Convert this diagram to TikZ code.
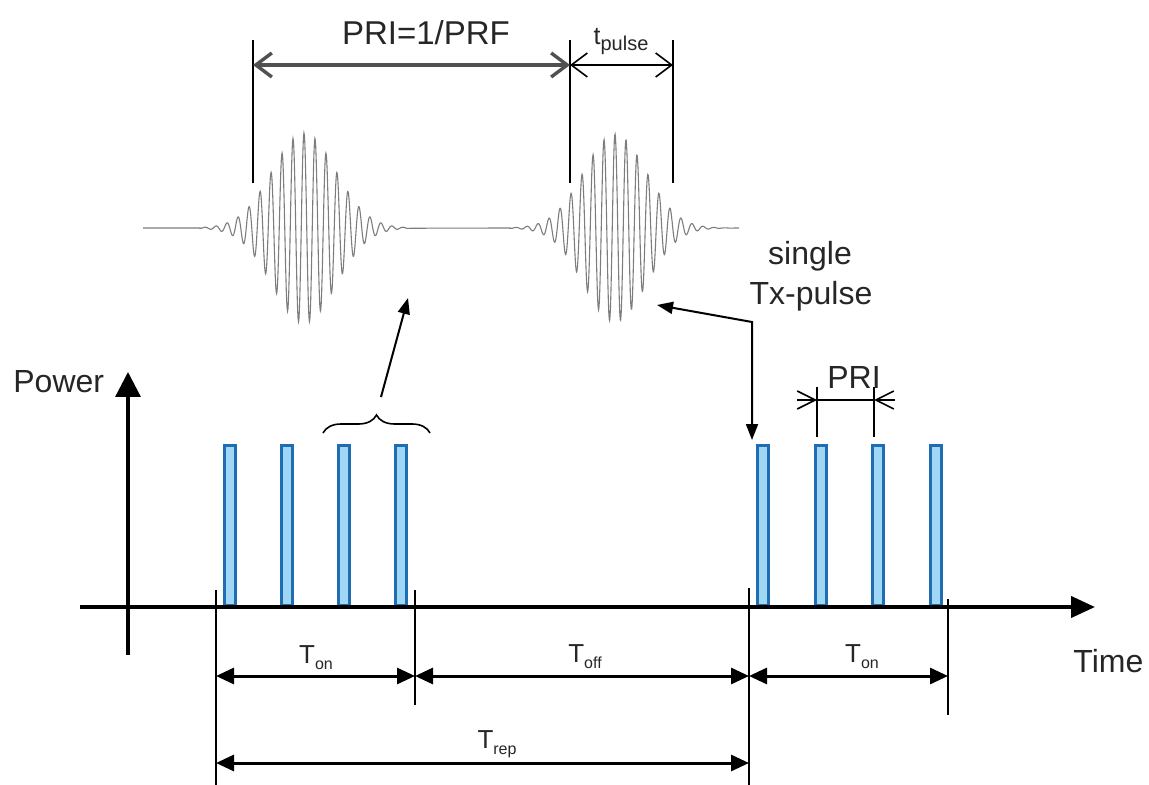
\documentclass[tikz,border=0pt]{standalone}
\usepackage{fontspec}
\setmainfont{Liberation Sans}
\usetikzlibrary{arrows.meta,decorations.pathreplacing}
\definecolor{pulseedge}{RGB}{31,110,180}
\definecolor{pulsefill}{RGB}{160,215,245}
\definecolor{wavegray}{RGB}{125,125,125}
\definecolor{dimgray}{RGB}{80,80,80}
\newcommand\TsubLbl[1]{T\raisebox{-3pt}{\fontsize{8}{10}\selectfont #1}}
\begin{document}
\begin{tikzpicture}[x=0.5pt,y=-0.5pt,
  pulsebox/.style={draw=pulseedge, fill=pulsefill, line width=1.6pt, minimum width=5.5pt, minimum height=80pt, inner sep=0pt, anchor=south},
  lbl/.style={font=\fontsize{16}{19}\selectfont, inner sep=0pt},
  tlbl/.style={font=\fontsize{13}{15}\selectfont, inner sep=0pt, anchor=base},
  dimarrow/.style={line width=1.5pt, {Triangle[length=9pt,width=8pt]}-{Triangle[length=9pt,width=8pt]}},
  guide/.style={line width=0.8pt},
  barb/.style={line width=0.8pt, -{Straight Barb[length=9pt,width=9pt]}},
  axisline/.style={line width=2pt},
  wave/.style={draw=wavegray, line width=0.55pt}
]
\useasboundingbox (0,0) rectangle (1149,785);

% ---------- waveform ----------
\draw[wave] (143,228) -- (200,228)
  -- plot[domain=200:410, samples=500] (\x, {228 - 95*exp(-((\x-304)/45)^2)*cos(32.727*(\x-304))})
  -- (510,228)
  -- plot[domain=510:730, samples=520] (\x, {228 - 94*exp(-((\x-615)/44)^2)*cos(32.727*(\x-615))})
  -- (739,228);

% ---------- top dimensions ----------
\coordinate (tg1a) at (253,40); \coordinate (tg1b) at (253,183);
\coordinate (tg2a) at (570,40); \coordinate (tg2b) at (570,183);
\coordinate (tg3a) at (673,40); \coordinate (tg3b) at (673,183);
\draw[guide] (tg1a) -- (tg1b);
\draw[guide] (tg2a) -- (tg2b);
\draw[guide] (tg3a) -- (tg3b);
\coordinate (pri1) at (253,65); \coordinate (pri2) at (570,65); \coordinate (tp2) at (673,65);
\draw[draw=dimgray, line width=1.7pt, {Straight Barb[length=8pt,width=12pt]}-{Straight Barb[length=8pt,width=12pt]}] (pri1) -- (pri2);
\draw[line width=0.8pt, {Straight Barb[length=8pt,width=12pt]}-{Straight Barb[length=8pt,width=12pt]}] (pri2) -- (tp2);
\node[lbl, font=\fontsize{16.5}{19}\selectfont, anchor=base, text=black!85] (prilbl) at (426,45) {PRI=1/PRF};
\node[inner sep=0pt, anchor=base, text=black!85] (tpulse) at (621,45) {\fontsize{12.5}{14}\selectfont t\raisebox{-3pt}{\fontsize{10}{12}\selectfont pulse}};

% ---------- pulses ----------
\foreach \i/\px in {1/230,2/287,3/344,4/401,5/763,6/821,7/878,8/936}
  \node[pulsebox] (p\i) at (\px,607) {};

% ---------- axes ----------
\coordinate (xa0) at (80,607); \coordinate (xa1) at (1095,607);
\draw[axisline, -{Triangle[length=12pt,width=10.5pt]}] (xa0) -- (xa1);
\coordinate (ya0) at (128,655); \coordinate (ya1) at (128,372);
\draw[line width=1.6pt, -{Triangle[length=12.5pt,width=12.5pt]}] (ya0) -- (ya1);
\node[lbl, anchor=base west, text=black!85] (power) at (13,393) {Power};
\node[lbl, anchor=base west, text=black!85] (time) at (1073,672) {Time};

% ---------- bottom guides ----------
\coordinate (g1a) at (216,590); \coordinate (g1b) at (216,785);
\coordinate (g2a) at (415,590); \coordinate (g2b) at (415,705);
\coordinate (g3a) at (749,588); \coordinate (g3b) at (749,785);
\coordinate (g4a) at (948,599); \coordinate (g4b) at (948,715);
\draw[guide] (g1a) -- (g1b);
\draw[guide] (g2a) -- (g2b);
\draw[guide] (g3a) -- (g3b);
\draw[guide] (g4a) -- (g4b);

\coordinate (d1) at (216,676); \coordinate (d2) at (415,676);
\coordinate (d3) at (749,676); \coordinate (d4) at (948,676);
\coordinate (r1) at (216,763); \coordinate (r2) at (749,763);
\draw[dimarrow] (d1) -- (d2);
\draw[dimarrow] (d2) -- (d3);
\draw[dimarrow] (d3) -- (d4);
\draw[dimarrow] (r1) -- (r2);
\node[tlbl, text=black!85] (ton1) at (316,663) {\TsubLbl{on}};
\node[tlbl, text=black!85] (toff) at (585,662) {\TsubLbl{off}};
\node[tlbl, text=black!85] (ton2) at (862,662) {\TsubLbl{on}};
\node[tlbl, text=black!85] (trep) at (497,748) {\TsubLbl{rep}};

% ---------- brace and arrow to first burst ----------
\coordinate (bra) at (323,433); \coordinate (brb) at (430,433);
\draw[line width=0.8pt, decorate, decoration={brace, amplitude=9pt}] (bra) -- (brb);
\coordinate (bar0) at (381,397); \coordinate (bar1) at (408,298);
\draw[line width=1pt, -{Triangle[length=8pt,width=6pt]}] (bar0) -- (bar1);

% ---------- single Tx-pulse ----------
\node[lbl, anchor=base, text=black!85] (single) at (810,265) {single};
\node[lbl, anchor=base, text=black!85] (txpulse) at (811,305) {Tx-pulse};
\coordinate (tx1) at (657,305); \coordinate (tx2) at (752,322); \coordinate (tx3) at (752,440);
\draw[line width=1pt, {Triangle[length=8pt,width=6pt]}-{Triangle[length=8pt,width=6pt]}] (tx1) -- (tx2) -- (tx3);

% ---------- PRI on right ----------
\coordinate (rp1a) at (817,387); \coordinate (rp1b) at (817,437);
\coordinate (rp2a) at (874,387); \coordinate (rp2b) at (874,437);
\draw[guide] (rp1a) -- (rp1b);
\draw[guide] (rp2a) -- (rp2b);
\coordinate (rl0) at (797,400); \coordinate (rl1) at (817,400);
\coordinate (rl2) at (874,400); \coordinate (rl3) at (895,400);
\draw[line width=1.2pt] (rl1) -- (rl2);
\draw[barb] (rl0) -- (rl1);
\draw[barb] (rl3) -- (rl2);
\node[lbl, anchor=base, text=black!85] (prir) at (854,388) {PRI};
\end{tikzpicture}
\end{document}
